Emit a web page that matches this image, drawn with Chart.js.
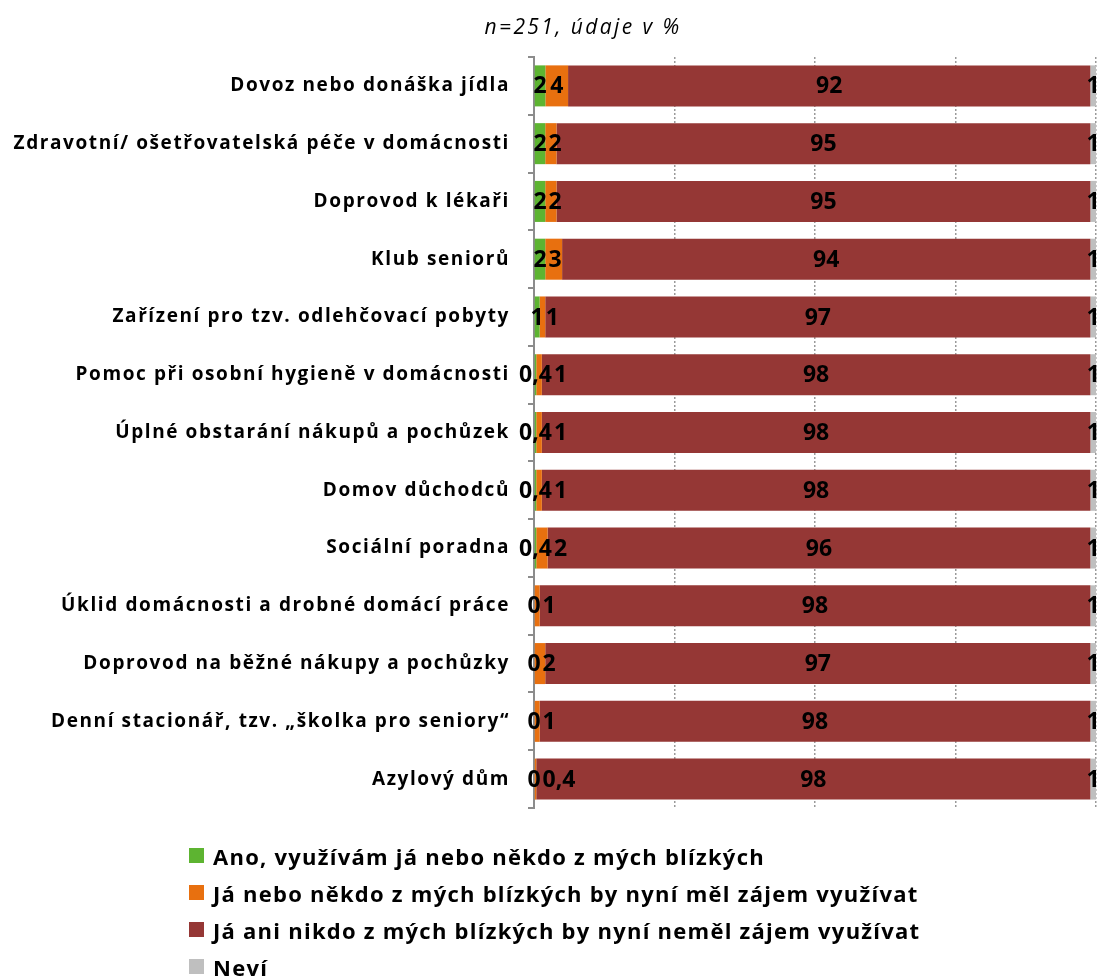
<!DOCTYPE html>
<html lang="cs">
<head>
<meta charset="UTF-8">
<title>Služby pro seniory</title>
<script src="https://cdn.jsdelivr.net/npm/chart.js"></script>
<style>
  body{margin:0;background:#fff;font-family:"Open Sans",sans-serif;}
  #wrap{position:relative;width:1102px;height:976px;}
  #title{position:absolute;left:0;top:12px;width:1166px;text-align:center;font-style:italic;font-size:21px;letter-spacing:2.4px;color:#000;}
  #chart-box{position:absolute;left:0;top:0;width:1102px;height:840px;}
  #legend{position:absolute;left:189px;top:837px;font-weight:bold;font-size:22px;letter-spacing:1.25px;color:#000;}
  #legend div{height:37px;display:flex;align-items:center;white-space:nowrap;}
  #legend span.box{display:inline-block;width:15px;height:15px;margin-right:9px;}
</style>
</head>
<body>
<div id="wrap">
  <div id="chart-box"><canvas id="myChart"></canvas></div>
  <div id="title">n=251, údaje v %</div>
  <div id="legend"></div>
</div>
<script>
// kategorie a hodnoty (v %)
const categories = [
  'Dovoz nebo donáška jídla',
  'Zdravotní/ ošetřovatelská péče v domácnosti',
  'Doprovod k lékaři',
  'Klub seniorů',
  'Zařízení pro tzv. odlehčovací pobyty',
  'Pomoc při osobní hygieně v domácnosti',
  'Úplné obstarání nákupů a pochůzek',
  'Domov důchodců',
  'Sociální poradna',
  'Úklid domácnosti a drobné domácí práce',
  'Doprovod na běžné nákupy a pochůzky',
  'Denní stacionář, tzv. „školka pro seniory“',
  'Azylový dům'
];
const seriesNames = [
  'Ano, využívám já nebo někdo z mých blízkých',
  'Já nebo někdo z mých blízkých by nyní měl zájem využívat',
  'Já ani nikdo z mých blízkých by nyní neměl zájem využívat',
  'Neví'
];
const seriesColors = ['#5db431', '#e8700f', '#953735', '#bfbfbf'];
const vyuzivam   = [2, 2, 2, 2, 1, 0.4, 0.4, 0.4, 0.4, 0, 0, 0, 0];
const meloZajem  = [4, 2, 2, 3, 1, 1, 1, 1, 2, 1, 2, 1, 0.4];
const nemaZajem  = [92, 95, 95, 94, 97, 98, 98, 98, 96, 98, 97, 98, 98];
const nevi       = [1, 1, 1, 1, 1, 1, 1, 1, 1, 1, 1, 1, 1];
const xTicks = [0, 25, 50, 75, 100];

const raw = [vyuzivam, meloZajem, nemaZajem, nevi];
// 100% skladany graf - kazdy radek prepocitat na 100
const sums = categories.map((_, j) => raw.reduce((s, arr) => s + arr[j], 0));
const fmt = v => String(v).replace('.', ',');

// proklad pismen jako v puvodnim grafu
const spacing = {
  id: 'spacing',
  beforeDraw(chart) { chart.ctx.letterSpacing = '1.6px'; }
};

// popisky hodnot uprostred segmentu, prekryvajici se posunout doprava
const valueLabels = {
  id: 'valueLabels',
  afterDatasetsDraw(chart) {
    const ctx = chart.ctx;
    ctx.save();
    ctx.letterSpacing = '0px';
    ctx.font = 'bold 23px "Open Sans"';
    ctx.fillStyle = '#000';
    ctx.textAlign = 'center';
    ctx.textBaseline = 'middle';
    const prevRight = categories.map(() => -Infinity);
    chart.data.datasets.forEach((ds, i) => {
      chart.getDatasetMeta(i).data.forEach((bar, j) => {
        const p = bar.getProps(['x', 'base', 'y'], true);
        const txt = fmt(raw[i][j]);
        const w = ctx.measureText(txt).width;
        let cx = (p.x + p.base) / 2;
        if (cx - w / 2 < prevRight[j] + 2) cx = prevRight[j] + 2 + w / 2;
        ctx.fillText(txt, cx, p.y + 1);
        prevRight[j] = cx + w / 2;
      });
    });
    ctx.restore();
  }
};

const datasets = raw.map((arr, i) => ({
  label: seriesNames[i],
  data: arr.map((v, j) => v / sums[j] * 100),
  backgroundColor: seriesColors[i],
  borderWidth: 0,
  barPercentage: 0.71,
  categoryPercentage: 1
}));

new Chart(document.getElementById('myChart'), {
  type: 'bar',
  data: { labels: categories, datasets },
  options: {
    indexAxis: 'y',
    responsive: true,
    maintainAspectRatio: false,
    animation: false,
    layout: { padding: { top: 57, right: 6, bottom: 32, left: 0 } },
    plugins: { legend: { display: false }, tooltip: { enabled: false } },
    scales: {
      x: {
        stacked: true, min: 0, max: 100,
        afterBuildTicks: s => { s.ticks = xTicks.map(v => ({ value: v })); },
        ticks: { display: false },
        grid: { color: c => c.tick && c.tick.value === 0 ? 'rgba(0,0,0,0)' : '#9a9a9a', lineWidth: 1.5, drawTicks: false },
        border: { display: false, dash: [2, 2] }
      },
      y: {
        stacked: true,
        afterFit: s => { s.width = 534; },
        ticks: { color: '#000', font: { family: 'Open Sans', weight: 'bold', size: 19 }, padding: 18 },
        grid: { offset: true, drawOnChartArea: false, drawTicks: true, tickLength: 6, color: '#8c8c8c', lineWidth: 2 },
        border: { color: '#8c8c8c', width: 2 }
      }
    }
  },
  plugins: [spacing, valueLabels]
});

// legenda
const legend = document.getElementById('legend');
seriesNames.forEach((name, i) => {
  const row = document.createElement('div');
  row.innerHTML = '<span class="box" style="background:' + seriesColors[i] + '"></span>' + name;
  legend.appendChild(row);
});
</script>
</body>
</html>
